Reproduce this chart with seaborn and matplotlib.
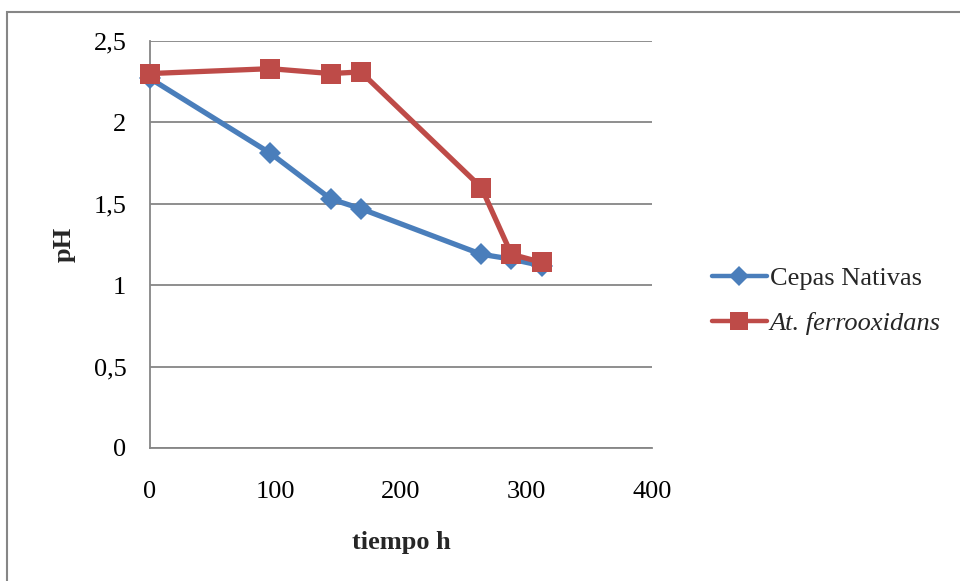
import matplotlib
matplotlib.use("Agg")
import matplotlib.pyplot as plt
import seaborn as sns
import pandas as pd
from matplotlib.patches import Rectangle
from matplotlib.ticker import FuncFormatter

tiempo = [0, 96, 144, 168, 264, 288, 312]
cepas_nativas = [2.27, 1.81, 1.53, 1.47, 1.19, 1.16, 1.12]
at_ferrooxidans = [2.30, 2.33, 2.30, 2.31, 1.60, 1.19, 1.14]
series_names = ["Cepas Nativas", "At. ferrooxidans"]
x_ticks = [0, 100, 200, 300, 400]
y_ticks = [0, 0.5, 1, 1.5, 2, 2.5]

df = pd.DataFrame({
    "tiempo": tiempo * 2,
    "pH": cepas_nativas + at_ferrooxidans,
    "serie": [series_names[0]] * len(tiempo) + [series_names[1]] * len(tiempo),
})

sns.set_theme(style="white")
plt.rcParams["font.family"] = ["Liberation Serif", "DejaVu Serif"]

fig = plt.figure(figsize=(9.6, 5.81), dpi=100)
ax = fig.add_axes([150/960, 1-448/581, (652-150)/960, (448-41)/581])

# outer chart border
fig.patches.append(Rectangle((7/960, -0.05), 1.2, 1-12/581+0.05, transform=fig.transFigure,
                             fill=False, edgecolor="#868686", linewidth=1.5, zorder=0))

palette = {series_names[0]: "#4A7EBB", series_names[1]: "#BE4B48"}
markers = {series_names[0]: "D", series_names[1]: "s"}
sizes = {series_names[0]: 11, series_names[1]: 14}

for name in series_names:
    sub = df[df["serie"] == name]
    sns.lineplot(data=sub, x="tiempo", y="pH", ax=ax, color=palette[name],
                 marker=markers[name], markersize=sizes[name], linewidth=3.8,
                 markeredgewidth=0, label=name, clip_on=False, zorder=3)

ax.set_xlim(0, 400)
ax.set_ylim(0, 2.5)
ax.set_xticks(x_ticks)
ax.set_yticks(y_ticks)
ax.yaxis.set_major_formatter(FuncFormatter(lambda v, p: ("%g" % v).replace(".", ",")))
ax.xaxis.set_major_formatter(FuncFormatter(lambda v, p: "%g" % v))
ax.grid(axis="y", color="#868686", linewidth=1.3)
ax.grid(axis="x", visible=False)
for s in ["top", "right"]:
    ax.spines[s].set_visible(False)
for s in ["left", "bottom"]:
    ax.spines[s].set_color("#868686")
    ax.spines[s].set_linewidth(1.3)
ax.tick_params(axis="both", length=0, labelsize=19, colors="black")
ax.tick_params(axis="x", pad=24)
ax.tick_params(axis="y", pad=17)

ax.set_xlabel("tiempo h", fontsize=19, fontweight="bold", labelpad=20)
ax.set_ylabel("pH", fontsize=19, fontweight="bold", labelpad=13)

leg = ax.legend(loc="center left", bbox_to_anchor=(1.072, 0.361), frameon=False,
                fontsize=19, handlelength=2.08, handletextpad=0.11, labelspacing=0.82)
for t in leg.get_texts():
    if t.get_text() == series_names[1]:
        t.set_fontstyle("italic")
for h in leg.legend_handles:
    h.set_linewidth(3.2)
    h.set_markersize(h.get_markersize() * 0.9)

fig.savefig("out.png", dpi=100)
